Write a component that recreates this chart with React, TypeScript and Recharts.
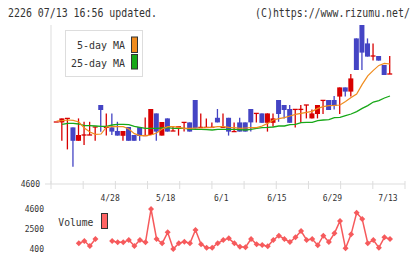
import React from "react";
import { ComposedChart, LineChart, Bar, Line, XAxis, YAxis } from "recharts";

// trading days, 4/14 .. 7/13
const dates = [
  "4/14", "4/15", "4/16", "4/17", "4/20", "4/21", "4/22", "4/23", "4/24", "4/27",
  "4/28", "4/30", "5/1", "5/7", "5/8", "5/11", "5/12", "5/13", "5/14", "5/15",
  "5/18", "5/19", "5/20", "5/21", "5/22", "5/25", "5/26", "5/27", "5/28", "5/29",
  "6/1", "6/2", "6/3", "6/4", "6/5", "6/8", "6/9", "6/10", "6/11", "6/12",
  "6/15", "6/16", "6/17", "6/18", "6/19", "6/22", "6/23", "6/24", "6/25", "6/26",
  "6/29", "6/30", "7/1", "7/2", "7/3", "7/6", "7/7", "7/8", "7/9", "7/10",
  "7/13",
];

const opens = [
  4910, 4908, 4928, 4883, 4816, 4845, 4845, 4885, 4995, 4883,
  4883, 4865, 4841, 4885, 4845, 4885, 4842, 4845, 4953, 4842,
  4928, 4865, 4886, 4908, 4908, 5020, 4883, 4883, 4883, 4931,
  4883, 4931, 4862, 4908, 4908, 4975, 4953, 4953, 4906, 4906,
  5020, 4995, 4975, 4973, 4973, 4995, 4928, 4950, 5018, 5020,
  5020, 5037, 5083, 5062, 5328, 5395, 5303, 5240, 5240, 5195,
  5150,
];
const highs = [
  4910, 4928, 4928, 4883, 4928, 4911, 4911, 4885, 4995, 4953,
  4953, 4911, 4865, 4885, 4845, 4885, 4933, 4975, 4953, 4910,
  4928, 4886, 4886, 4908, 4908, 5020, 4953, 4928, 4908, 4975,
  4953, 4931, 4908, 4931, 4908, 4975, 4953, 4953, 4953, 4953,
  5020, 4995, 4995, 4973, 4995, 4995, 4973, 4995, 5018, 5020,
  5040, 5083, 5083, 5150, 5328, 5395, 5328, 5303, 5240, 5195,
  5240,
];
const lows = [
  4910, 4816, 4773, 4686, 4816, 4795, 4845, 4816, 4861, 4842,
  4845, 4842, 4816, 4816, 4816, 4816, 4842, 4845, 4816, 4842,
  4862, 4865, 4842, 4862, 4862, 4878, 4883, 4883, 4883, 4908,
  4883, 4842, 4862, 4862, 4862, 4862, 4908, 4906, 4862, 4886,
  4911, 4928, 4906, 4883, 4906, 4928, 4928, 4928, 4950, 4970,
  4973, 4950, 5037, 5037, 5170, 5170, 5237, 5217, 5217, 5145,
  5150,
];
const closes = [
  4910, 4928, 4928, 4816, 4845, 4845, 4845, 4885, 4970, 4883,
  4862, 4842, 4865, 4816, 4816, 4840, 4842, 4975, 4862, 4910,
  4862, 4865, 4886, 4908, 4862, 4878, 4883, 4883, 4883, 4908,
  4883, 4862, 4862, 4862, 4862, 4908, 4953, 4906, 4953, 4928,
  4950, 4970, 4906, 4973, 4973, 4995, 4953, 4995, 5018, 4970,
  4990, 5083, 5062, 5128, 5170, 5257, 5237, 5240, 5217, 5145,
  5150,
];

const ma5 = [
  4915, 4917, 4920, 4918, 4910, 4880, 4860, 4848, 4850, 4885,
  4887, 4887, 4887, 4875, 4852, 4842, 4842, 4845, 4855, 4875,
  4887, 4887, 4883, 4878, 4878, 4880, 4880, 4882, 4883, 4887,
  4887, 4883, 4882, 4878, 4880, 4882, 4882, 4890, 4903, 4920,
  4927, 4932, 4940, 4948, 4953, 4958, 4963, 4978, 4987, 4992,
  4993, 4995, 5013, 5033, 5050, 5098, 5141, 5168, 5193, 5203,
  5200,
];
const ma25 = [
  null, 4898, 4903, 4903, 4900, 4892, 4892, 4890, 4888, 4888,
  4895, 4898, 4898, 4897, 4888, 4883, 4878, 4878, 4878, 4880,
  4882, 4878, 4878, 4878, 4875, 4873, 4873, 4872, 4870, 4873,
  4873, 4873, 4873, 4872, 4870, 4873, 4878, 4882, 4883, 4885,
  4890, 4890, 4897, 4898, 4907, 4908, 4908, 4917, 4920, 4922,
  4932, 4933, 4942, 4950, 4962, 4978, 4992, 5010, 5017, 5030,
  5040,
];

const volume = [
  null, null, null, null, 1000, 1240, 715, 1450, null, null,
  1240, 1100, 1100, 1345, 715, 1345, 1100, 4600, 1450, 1000,
  2150, 400, 1000, 1170, 1000, 2400, 900, 540, 540, 1000,
  1345, 1520, 1000, 640, 580, 1450, 900, 820, 680, 1345,
  1800, 1450, 1135, 1630, 2290, 1345, 1450, 790, 1800, 1135,
  2050, 3340, 475, 1940, 4210, 3550, 1000, 1345, 540, 1630,
  1450,
];

const labelIdx = [10, 20, 30, 40, 50, 60];
const priceTicks = [4600];
const volumeTicks = [400, 2500, 4600];

const RED = "#d80000";
const BLUE = "#4444c4";
const ORANGE = "#f08c1e";
const GREEN = "#18a818";
const VOL = "#f65a5c";
const AXIS = "#dddddd";
const TEXT = "#333333";
const MONO = '"DejaVu Sans Mono", monospace';

const X_DOMAIN: [number, number] = [-1, 62.7];
const gridTicks = Array.from(
  { length: 12 },
  (_, k) => X_DOMAIN[0] + (k * (X_DOMAIN[1] - X_DOMAIN[0])) / 11
);

const rows = dates.map((date, i) => ({
  i,
  date,
  open: opens[i],
  high: highs[i],
  low: lows[i],
  close: closes[i],
  range: [lows[i], highs[i]],
  ma5: ma5[i],
  ma25: ma25[i],
  volume: volume[i],
}));

const Candle = (p: any) => {
  let { x, y, width, height } = p;
  const { open, close, high, low } = p.payload;
  if (height < 0) {
    y += height;
    height = -height;
  }
  const span = high - low;
  const toY = (v: number) => (span === 0 ? y : y + ((high - v) / span) * height);
  const cx = x + width / 2;
  const wick = span > 0 ? (
    <line x1={cx} x2={cx} y1={toY(high)} y2={toY(low)} stroke={close >= open ? RED : BLUE} strokeWidth={1.3} />
  ) : null;

  if (open === close) {
    return (
      <g>
        {wick}
        <line x1={x} x2={x + width} y1={toY(open)} y2={toY(open)} stroke={RED} strokeWidth={1.3} />
      </g>
    );
  }
  const top = toY(Math.max(open, close));
  const bot = toY(Math.min(open, close));
  return (
    <g>
      {wick}
      <rect x={x} y={top} width={width} height={Math.max(bot - top, 1)} fill={close > open ? RED : BLUE} />
    </g>
  );
};

const DateTick = (p: any) => {
  const v = p.payload.value;
  if (labelIdx.includes(v)) {
    return (
      <text x={p.x - 2} y={p.y + 17} textAnchor="middle" fill={TEXT} fontSize={8} fontFamily={MONO}>
        {dates[v]}
      </text>
    );
  }
  return <line x1={p.x} x2={p.x} y1={p.y - 3} y2={p.y + 5} stroke={AXIS} strokeWidth={1} />;
};

const ValueTick = (p: any) => (
  <text x={p.x} y={p.y} dy={3} textAnchor="end" fill={TEXT} fontSize={8} fontFamily={MONO}>
    {p.payload.value}
  </text>
);

const Diamond = (p: any) => {
  if (p.cy == null || p.value == null) return <g key={p.index} />;
  const r = 3;
  return (
    <polygon
      key={p.index}
      points={`${p.cx},${p.cy - r} ${p.cx + r},${p.cy} ${p.cx},${p.cy + r} ${p.cx - r},${p.cy}`}
      fill={VOL}
    />
  );
};

export default function App() {
  return (
    <div style={{ position: "relative", width: 420, height: 259, background: "#fff", overflow: "hidden" }}>
      <style>{"body{margin:0}"}</style>

      <div style={{ position: "absolute", left: 0, top: 0 }}>
        <ComposedChart width={420} height={205} data={rows} margin={{ top: 25, right: 15, bottom: 0, left: 0 }}>
          <XAxis
            dataKey="i"
            type="number"
            domain={X_DOMAIN}
            allowDataOverflow
            ticks={[...gridTicks, ...labelIdx]}
            interval={0}
            height={21}
            tickSize={0}
            tickMargin={0}
            tickLine={false}
            axisLine={{ stroke: AXIS }}
            tick={DateTick}
          />
          <YAxis
            domain={[4600, 5395]}
            allowDataOverflow
            ticks={priceTicks}
            interval={0}
            width={51}
            tickSize={6}
            tickMargin={5}
            axisLine={{ stroke: AXIS }}
            tickLine={{ stroke: AXIS }}
            tick={ValueTick}
          />
          <Line dataKey="ma25" type="linear" stroke={GREEN} strokeWidth={1.3} dot={false} isAnimationActive={false} />
          <Line dataKey="ma5" type="linear" stroke={ORANGE} strokeWidth={1.2} dot={false} isAnimationActive={false} />
          <Bar dataKey="range" barSize={5} shape={Candle} isAnimationActive={false} />
        </ComposedChart>
      </div>

      <div style={{ position: "absolute", left: 0, top: 205 }}>
        <LineChart width={420} height={50} data={rows} margin={{ top: 0, right: 15, bottom: 0, left: 0 }}>
          <XAxis dataKey="i" type="number" domain={X_DOMAIN} allowDataOverflow hide />
          <YAxis
            domain={[-230, 5020]}
            ticks={volumeTicks}
            interval={0}
            width={51}
            tickSize={6}
            tickMargin={1}
            axisLine={false}
            tickLine={false}
            tick={ValueTick}
          />
          <Line
            dataKey="volume"
            type="linear"
            stroke={VOL}
            strokeWidth={1.5}
            dot={Diamond}
            connectNulls={false}
            isAnimationActive={false}
          />
        </LineChart>
      </div>

      <svg width={420} height={259} style={{ position: "absolute", left: 0, top: 0, pointerEvents: "none" }}>
        <g fontFamily={MONO} fill={TEXT}>
          {/* header lines: tall, narrow monospace */}
          <g transform="translate(8,17.3) scale(0.825,1)">
            <text x={0} y={0} fontSize={12}>
              2226 07/13 16:56 updated.
            </text>
          </g>
          <g transform="translate(255,17.3) scale(0.825,1)">
            <text x={0} y={0} fontSize={12}>
              (C)https://www.rizumu.net/
            </text>
          </g>

          <rect x={65.5} y={30.5} width={77} height={46} fill="#fff" stroke={AXIS} />
          <text x={125} y={49.3} fontSize={10.5} textAnchor="end" textLength={48} lengthAdjust="spacingAndGlyphs">
            5-day MA
          </text>
          <text x={125} y={66.5} fontSize={10.5} textAnchor="end" textLength={54} lengthAdjust="spacingAndGlyphs">
            25-day MA
          </text>
          <rect x={131.5} y={37} width={6} height={15.5} fill={ORANGE} stroke={TEXT} />
          <rect x={131.5} y={54.5} width={6} height={14.5} fill={GREEN} stroke={TEXT} />

          <text x={58.3} y={225.7} fontSize={10.5} textLength={35} lengthAdjust="spacingAndGlyphs">
            Volume
          </text>
          <rect x={101.5} y={213.5} width={6} height={15} fill="#ff6464" stroke={TEXT} />
        </g>
      </svg>
    </div>
  );
}
